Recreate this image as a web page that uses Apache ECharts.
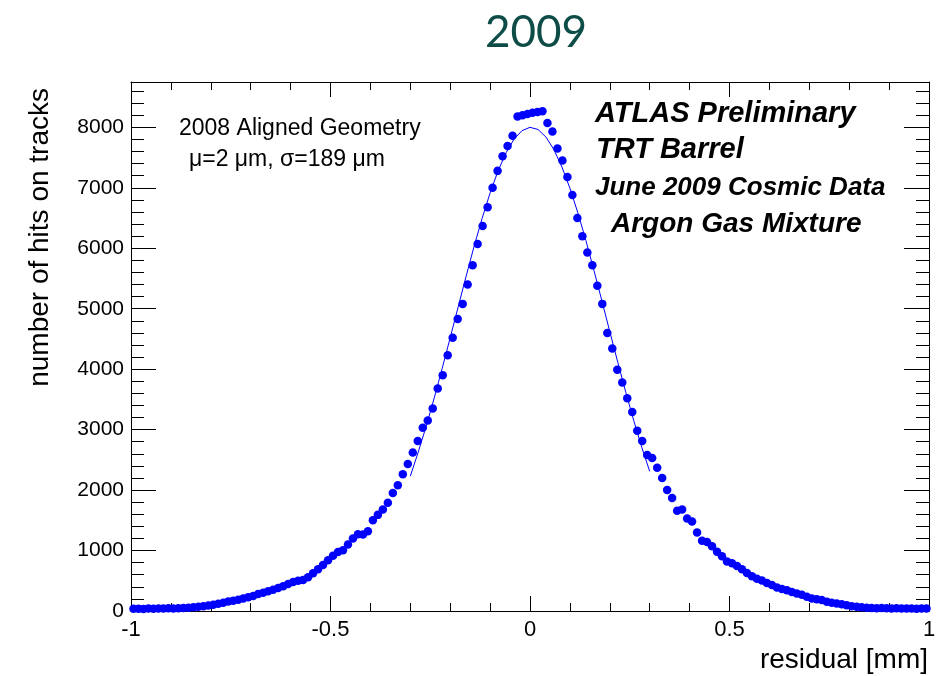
<!DOCTYPE html>
<html>
<head>
<meta charset="utf-8">
<script src="https://cdn.jsdelivr.net/npm/echarts@6/dist/echarts.min.js"></script>
<style>
  html, body { margin: 0; padding: 0; background: #ffffff; }
  #chart { width: 942px; height: 676px; }
</style>
</head>
<body>
<div id="chart"></div>
<script>
// Histogram binning of the track residuals: 160 bins over [-1, 1] mm
const residualMin = -1;
const residualMax = 1;
const binWidth = 0.0125;

// Hits per bin (left to right)
const hitsPerBin = [
  36, 38, 35, 40, 39, 42, 40, 44, 43, 47, 50, 55,
  61, 70, 80, 92, 105, 118, 135, 158, 170, 185, 208, 228,
  250, 280, 300, 325, 352, 380, 410, 445, 480, 500, 512, 560,
  625, 690, 760, 840, 915, 975, 1005, 1100, 1200, 1270, 1265, 1320,
  1500, 1590, 1680, 1790, 1950, 2080, 2260, 2430, 2620, 2810, 3030, 3150,
  3350, 3680, 3900, 4230, 4520, 4830, 5080, 5400, 5720, 6070, 6370, 6680,
  7000, 7280, 7520, 7690, 7860, 8180, 8200, 8220, 8240, 8255, 8265, 8070,
  7930, 7650, 7450, 7180, 6880, 6500, 6200, 5930, 5720, 5380, 5080, 4600,
  4340, 3990, 3780, 3520, 3290, 2980, 2810, 2580, 2530, 2370, 2200, 2000,
  1870, 1660, 1680, 1530, 1480, 1300, 1160, 1140, 1070, 980, 905, 820,
  790, 745, 690, 630, 575, 535, 505, 462, 430, 390, 365, 342,
  315, 290, 268, 235, 208, 195, 180, 155, 138, 125, 112, 95,
  80, 70, 60, 55, 50, 46, 48, 44, 42, 45, 40, 43, 41, 38, 42, 40
];

// Gaussian fit curve over the core, sampled points
const fitResidual = [
  -0.30, -0.28, -0.26, -0.24, -0.22, -0.20, -0.18, -0.16, -0.14, -0.12, -0.10,
  -0.08, -0.06, -0.04, -0.02, 0.00, 0.02, 0.04, 0.06, 0.08, 0.10,
  0.12, 0.14, 0.16, 0.18, 0.20, 0.22, 0.24, 0.26, 0.28, 0.30
];
const fitHits = [
  2230, 2630, 3060, 3525, 4015, 4520, 5030, 5540, 6035, 6495, 6915,
  7280, 7580, 7805, 7945, 8000, 7965, 7840, 7630, 7345, 6995,
  6585, 6130, 5640, 5135, 4620, 4115, 3620, 3150, 2710, 2310
];

// Text drawn on the canvas
const chartTitle = '2009';
const xAxisTitle = 'residual [mm]';
const yAxisTitle = 'number of hits on tracks';
const fitInfoLines = ['2008 Aligned Geometry', '\u03bc=2 \u03bcm, \u03c3=189 \u03bcm'];
const atlasLines = ['ATLAS Preliminary', 'TRT Barrel', 'June 2009 Cosmic Data', 'Argon Gas Mixture'];

const yMax = 8750;

const binCenters = hitsPerBin.map((_, i) => residualMin + (i + 0.5) * binWidth);
const pointData = hitsPerBin.map((v, i) => [binCenters[i], v]);
const fitData = fitResidual.map((x, i) => [x, fitHits[i]]);

const black = '#000000';
const blue = '#0000ff';
const baseFont = 'Liberation Sans, Arial, Helvetica, sans-serif';

function frameX(position, showLabels) {
  return {
    type: 'value', position: position, min: residualMin, max: residualMax, interval: 0.5,
    axisLine: { show: true, onZero: false, lineStyle: { color: black, width: 1 } },
    axisTick: { show: true, inside: true, length: 15, lineStyle: { color: black, width: 1 } },
    minorTick: { show: true, splitNumber: 5, length: 8, lineStyle: { color: black, width: 1 } },
    axisLabel: { show: showLabels, fontSize: 22, color: black, fontFamily: baseFont, margin: 8,
                 formatter: v => String(v) },
    splitLine: { show: false }, minorSplitLine: { show: false }
  };
}

function frameY(position, interval, tickLen, showLine, showLabels) {
  return {
    type: 'value', position: position, min: 0, max: yMax, interval: interval,
    axisLine: { show: showLine, onZero: false, lineStyle: { color: black, width: 1 } },
    axisTick: { show: true, inside: true, length: tickLen, lineStyle: { color: black, width: 1 } },
    axisLabel: { show: showLabels, fontSize: 21, color: black, fontFamily: baseFont, margin: 7,
                 showMaxLabel: false,
                 formatter: v => (v >= yMax ? '' : String(v)) },
    splitLine: { show: false }
  };
}

const chart = echarts.init(document.getElementById('chart'), null, { renderer: 'canvas' });

chart.setOption({
  animation: false,
  backgroundColor: '#ffffff',
  grid: { left: 131, right: 13, top: 82, bottom: 65, containLabel: false, outerBoundsMode: 'none' },
  xAxis: [frameX('bottom', true), frameX('top', false)],
  yAxis: [
    frameY('left', 1000, 25, true, true),
    frameY('left', 200, 13, false, false),
    frameY('right', 1000, 25, true, false),
    frameY('right', 200, 13, false, false)
  ],
  series: [
    {
      type: 'scatter', xAxisIndex: 0, yAxisIndex: 0,
      data: pointData, symbol: 'circle', symbolSize: 8.5,
      itemStyle: { color: blue, opacity: 1 }, z: 3
    },
    {
      type: 'line', xAxisIndex: 0, yAxisIndex: 0,
      data: fitData, showSymbol: false, smooth: false,
      lineStyle: { color: blue, width: 1 }, z: 4
    }
  ],
  graphic: [
    {
      type: 'text', x: 536, y: 33,
      style: { text: chartTitle, fontSize: 44, fontWeight: 'normal', fontFamily: 'Lato, sans-serif', fill: '#0e4d47',
               align: 'center', verticalAlign: 'middle' }
    },
    {
      type: 'text', x: 40, y: 88, rotation: Math.PI / 2,
      style: { text: yAxisTitle, fontSize: 28, fontFamily: baseFont, fill: black,
               align: 'right', verticalAlign: 'middle' }
    },
    {
      type: 'text', x: 928, y: 660,
      style: { text: xAxisTitle, fontSize: 28, fontFamily: baseFont, fill: black,
               align: 'right', verticalAlign: 'middle' }
    },
    {
      type: 'text', x: 179, y: 129,
      style: { text: fitInfoLines[0], fontSize: 23, fontFamily: baseFont, fill: black,
               align: 'left', verticalAlign: 'middle' }
    },
    {
      type: 'text', x: 189, y: 160,
      style: { text: fitInfoLines[1], fontSize: 23, fontFamily: baseFont, fill: black,
               align: 'left', verticalAlign: 'middle' }
    },
    {
      type: 'text', x: 595, y: 114,
      style: { text: atlasLines[0], fontSize: 29, fontWeight: 'bold', fontStyle: 'italic',
               fontFamily: baseFont, fill: black, align: 'left', verticalAlign: 'middle' }
    },
    {
      type: 'text', x: 596, y: 150,
      style: { text: atlasLines[1], fontSize: 29, fontWeight: 'bold', fontStyle: 'italic',
               fontFamily: baseFont, fill: black, align: 'left', verticalAlign: 'middle' }
    },
    {
      type: 'text', x: 595, y: 188,
      style: { text: atlasLines[2], fontSize: 26, fontWeight: 'bold', fontStyle: 'italic',
               fontFamily: baseFont, fill: black, align: 'left', verticalAlign: 'middle' }
    },
    {
      type: 'text', x: 611, y: 224,
      style: { text: atlasLines[3], fontSize: 28, fontWeight: 'bold', fontStyle: 'italic',
               fontFamily: baseFont, fill: black, align: 'left', verticalAlign: 'middle' }
    }
  ]
});
</script>
</body>
</html>
